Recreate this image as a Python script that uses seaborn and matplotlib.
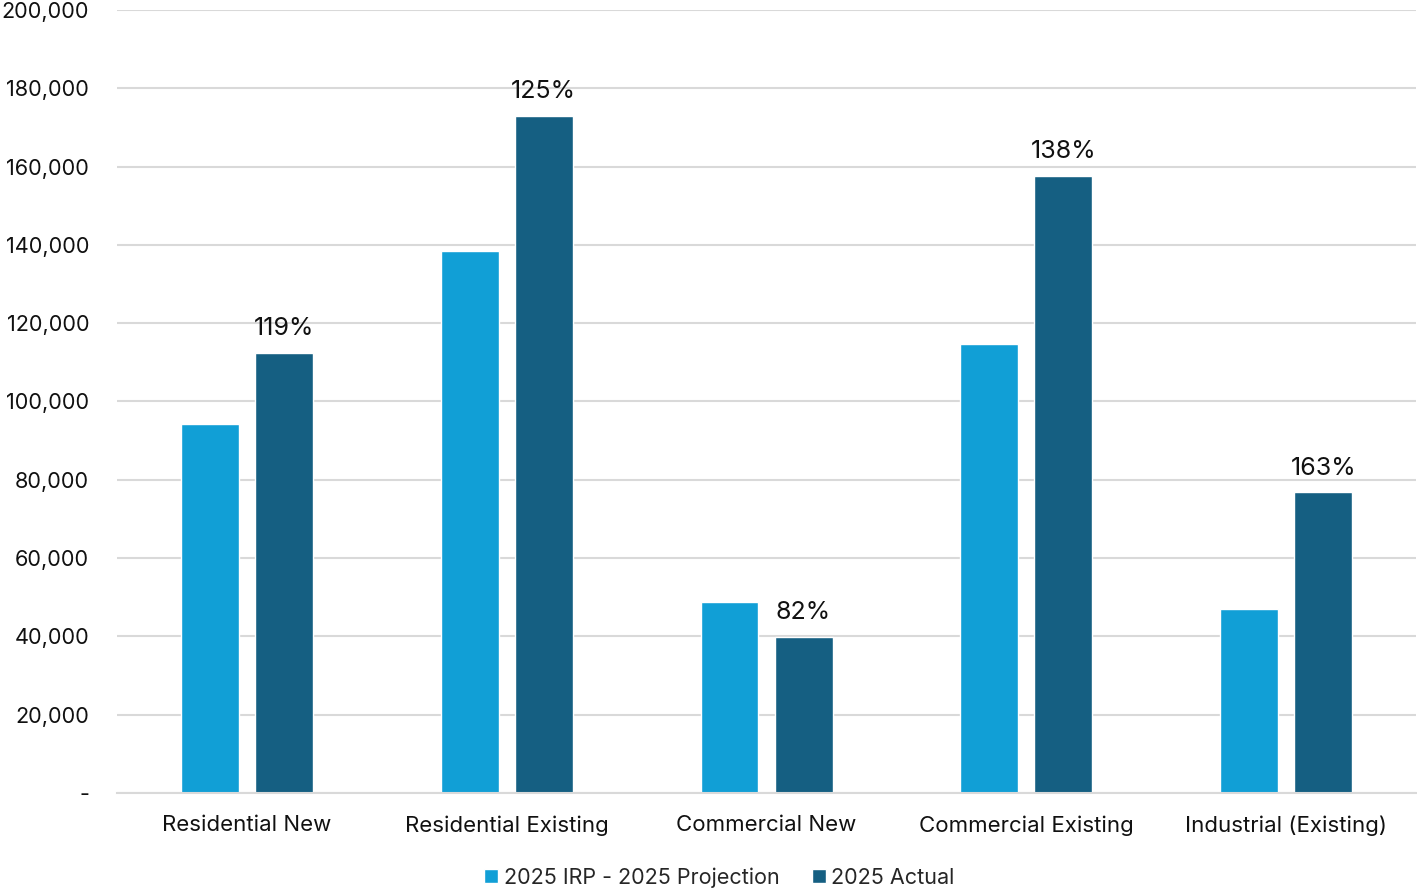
import matplotlib
matplotlib.use("Agg")
import matplotlib.pyplot as plt
import seaborn as sns
import pandas as pd
from matplotlib.ticker import FuncFormatter

categories = ["Residential New", "Residential Existing", "Commercial New",
              "Commercial Existing", "Industrial (Existing)"]
projection = [94200, 138500, 48800, 114600, 47000]
actual = [112500, 173000, 39900, 157600, 76800]
series_names = ["2025 IRP - 2025 Projection", "2025 Actual"]
colors = ["#119FD6", "#155F82"]

df = pd.DataFrame({
    "category": categories * 2,
    "series": [series_names[0]] * len(categories) + [series_names[1]] * len(categories),
    "value": projection + actual,
})

sns.set_theme(style="white")
plt.rcParams["font.family"] = ["Inter", "DejaVu Sans"]

fig = plt.figure(figsize=(14.17, 8.89), dpi=100)
ax = fig.add_axes([0.0826, 0.108, 0.9167, 0.8808])

sns.barplot(data=df, x="category", y="value", hue="series", palette=colors,
            width=0.57, gap=0.217, ax=ax, legend=True, saturation=1)

ax.set_ylim(0, 200000)
ax.set_yticks(range(0, 200001, 20000))
ax.yaxis.set_major_formatter(FuncFormatter(lambda v, p: "-" if v == 0 else f"{int(v):,}"))
ax.grid(axis="y", color="#d9d9d9", linewidth=1.5)
ax.set_axisbelow(True)
for s in ["top", "right", "left"]:
    ax.spines[s].set_visible(False)
ax.spines["bottom"].set_color("#d9d9d9")
ax.spines["bottom"].set_linewidth(1.5)
ax.set_xlim(-0.5, len(categories) - 0.5)
ax.set_xlabel("")
ax.set_ylabel("")
ax.tick_params(axis="y", labelsize=15.6, length=0, pad=20, labelcolor="#111111")
ax.tick_params(axis="x", labelsize=16, length=0, pad=16, labelcolor="#111111")
for lbl in ax.get_yticklabels():
    lbl.set_verticalalignment("center_baseline")

# percentage of actual vs projection above the actual bars
actual_bars = ax.containers[1]
for bar, p, a in zip(actual_bars, projection, actual):
    ax.annotate(f"{round(a / p * 100)}%",
                (bar.get_x() + bar.get_width() / 2, a),
                xytext=(0, 9), textcoords="offset points",
                ha="center", va="bottom", fontsize=18, color="#111111")

handles, labels = ax.get_legend_handles_labels()
ax.legend(handles, labels, loc="lower center", bbox_to_anchor=(0.4638, -0.132),
          ncol=2, frameon=False, fontsize=15.5, handlelength=0.65, handleheight=0.65,
          handletextpad=0.25, columnspacing=1.5, borderaxespad=0)

fig.savefig("out.png", dpi=100)
